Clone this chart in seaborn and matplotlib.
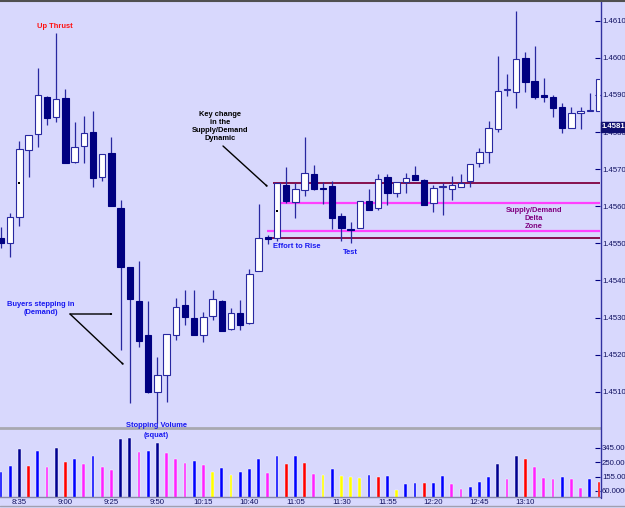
import matplotlib
matplotlib.use("Agg")
import matplotlib.pyplot as plt
from matplotlib.lines import Line2D
import seaborn as sns
import numpy as np
import pandas as pd

# ---------------- data ----------------
opens = [1.45514, 1.45501, 1.45571, 1.45752, 1.45795, 1.45894, 1.45840, 1.45892, 1.45719, 1.45762,
         1.45800, 1.45679, 1.45743, 1.45595, 1.45436, 1.45345, 1.45253, 1.45099, 1.45145, 1.45253,
         1.45334, 1.45299, 1.45253, 1.45304, 1.45345, 1.45269, 1.45312, 1.45285, 1.45425, 1.45517,
         1.45514, 1.45657, 1.45611, 1.45644, 1.45687, 1.45649, 1.45655, 1.45574, 1.45539, 1.45541,
         1.45614, 1.45595, 1.45679, 1.45636, 1.45665, 1.45684, 1.45671, 1.45609, 1.45652, 1.45646,
         1.45652, 1.45668, 1.45716, 1.45746, 1.45808, 1.45913, 1.45908, 1.45999, 1.45937, 1.45900,
         1.45894, 1.45867, 1.45811, 1.45851, 1.45857, 1.45857]
highs = [1.45544, 1.45582, 1.45776, 1.45792, 1.45973, 1.45897, 1.46067, 1.45916, 1.45827, 1.45843,
         1.45857, 1.45741, 1.45787, 1.45617, 1.45436, 1.45452, 1.45345, 1.45194, 1.45256, 1.45353,
         1.45374, 1.45374, 1.45315, 1.45374, 1.45347, 1.45326, 1.45347, 1.45431, 1.45606, 1.45522,
         1.45663, 1.45706, 1.45663, 1.45787, 1.45711, 1.45665, 1.45668, 1.45582, 1.45558, 1.45614,
         1.45646, 1.45687, 1.45687, 1.45665, 1.45690, 1.45708, 1.45673, 1.45657, 1.45663, 1.45681,
         1.45687, 1.45714, 1.45757, 1.45830, 1.46005, 1.45956, 1.46126, 1.46016, 1.46032, 1.45946,
         1.45900, 1.45878, 1.45867, 1.45867, 1.45905, 1.45943]
lows = [1.45487, 1.45463, 1.45547, 1.45679, 1.45760, 1.45819, 1.45827, 1.45716, 1.45716, 1.45716,
        1.45652, 1.45668, 1.45601, 1.45213, 1.45070, 1.45221, 1.45097, 1.45016, 1.45072, 1.45240,
        1.45280, 1.45253, 1.45234, 1.45293, 1.45264, 1.45266, 1.45266, 1.45283, 1.45425, 1.45498,
        1.45506, 1.45609, 1.45568, 1.45628, 1.45644, 1.45606, 1.45539, 1.45506, 1.45501, 1.45541,
        1.45590, 1.45590, 1.45603, 1.45625, 1.45636, 1.45671, 1.45603, 1.45584, 1.45576, 1.45617,
        1.45652, 1.45652, 1.45706, 1.45716, 1.45800, 1.45897, 1.45865, 1.45908, 1.45889, 1.45881,
        1.45840, 1.45797, 1.45811, 1.45808, 1.45857, 1.45857]
closes = [1.45501, 1.45571, 1.45754, 1.45792, 1.45900, 1.45838, 1.45889, 1.45716, 1.45760, 1.45797,
          1.45676, 1.45741, 1.45601, 1.45436, 1.45350, 1.45237, 1.45099, 1.45145, 1.45256, 1.45328,
          1.45301, 1.45253, 1.45301, 1.45350, 1.45264, 1.45312, 1.45280, 1.45417, 1.45514, 1.45512,
          1.45663, 1.45614, 1.45646, 1.45690, 1.45646, 1.45646, 1.45568, 1.45541, 1.45536, 1.45614,
          1.45590, 1.45673, 1.45636, 1.45665, 1.45676, 1.45671, 1.45603, 1.45649, 1.45655, 1.45657,
          1.45663, 1.45714, 1.45746, 1.45811, 1.45911, 1.45916, 1.45997, 1.45935, 1.45894, 1.45894,
          1.45865, 1.45811, 1.45851, 1.45857, 1.45859, 1.45943]
volumes = [183, 223, 339, 227, 324, 218, 346, 251, 269, 240, 291, 216, 197, 405, 408, 317, 324, 376,
           309, 271, 245, 260, 234, 187, 210, 168, 187, 203, 269, 177, 293, 238, 289, 247, 172,
           166, 203, 159, 150, 146, 163, 150, 159, 69, 106, 115, 111, 113, 159, 106, 73, 86, 119,
           152, 238, 137, 289, 273, 218, 146, 139, 152, 137, 82, 137, 119]
vol_class = list("BBNRBMNRBMBMMNNMBNMMMBMYBYBBBMBRBRM" "YBYYYBRBYBBRBBMMBBBNMNRMMMBMMBR")
start_minutes = 8 * 60 + 25
bar_minutes = 5
tick_idx = [2, 7, 12, 17, 22, 27, 32, 37, 42, 47, 52, 57]
tick_labels = ['8:35', '9:00', '9:25', '9:50', '10:15', '10:40', '11:05', '11:30',
               '11:55', '12:20', '12:45', '13:10']
price_ticks = [1.4510, 1.4520, 1.4530, 1.4540, 1.4550, 1.4560, 1.4570, 1.4580, 1.4590, 1.4600, 1.4610]
vol_ticks = [60, 155, 250, 345]
vol_tick_labels = ['60.0000', '155.000', '250.000', '345.000']
zone_levels = [1.45662, 1.45609, 1.45532, 1.45513]
zone_start = [29.6, 30.2, 28.9, 28.9]
zone_colors = ['#800040', '#ff40ff', '#ff40ff', '#800040']
dot_idx = [2, 30]
dot_price = [1.45663, 1.45587]
last_price_label = '1.45813'

# ---------------- style ----------------
sns.set_theme(style="white")
plt.rcParams['font.family'] = ['Liberation Sans', 'DejaVu Sans']

BG = '#d8d8fd'
NAVY = '#000080'
WICK = '#2828a0'
W, H = 625, 508

def frac(x0, y0, x1, y1):
    return [x0 / W, 1 - y1 / H, (x1 - x0) / W, (y1 - y0) / H]

def fp(x, y):
    return (x / W, 1 - y / H)

fig = plt.figure(figsize=(6.25, 5.08), dpi=100, facecolor=BG)
ax = fig.add_axes(frac(0, 0, 600, 428), facecolor=BG)
axv = fig.add_axes(frac(0, 430, 600, 497), facecolor=BG)

n = len(opens)
idx = np.arange(n)
o = np.array(opens); h = np.array(highs); l = np.array(lows); c = np.array(closes)
up = c >= o

# wicks
ax.vlines(idx, l, h, color=WICK, lw=0.9, zorder=2)
# bodies
body_bottom = np.minimum(o, c)
body_h = np.maximum(np.abs(c - o), 0.000012)
ax.bar(idx[up], body_h[up], bottom=body_bottom[up], width=0.68, color='white',
       edgecolor=WICK, linewidth=0.8, zorder=3)
ax.bar(idx[~up], body_h[~up], bottom=body_bottom[~up], width=0.68, color=NAVY,
       edgecolor=NAVY, linewidth=0.8, zorder=3)
ax.scatter(dot_idx, dot_price, s=2.5, color='black', marker='s', zorder=4, linewidths=0)

# zone lines
for lv, st, col in zip(zone_levels, zone_start, zone_colors):
    ax.hlines(lv, st, 66, color=col, lw=1.3 if col == '#800040' else 1.6, zorder=1)

xlim = (-0.11, 65.11)
ax.set_xlim(*xlim)
ax.set_ylim(1.450022, 1.461558)
ax.set_xticks([])
ax.yaxis.tick_right()
ax.set_yticks(price_ticks)
ax.set_yticklabels([f'{v:.5f}' for v in price_ticks])
ax.tick_params(axis='y', direction='in', length=3.5, width=0.8, color=NAVY, pad=1.5,
               labelsize=5.6, labelcolor='#101060', right=True)
for s in ['left', 'top', 'right']:
    ax.spines[s].set_visible(False)
ax.spines['bottom'].set_color('#a8a8b0')
ax.spines['bottom'].set_linewidth(2)

# volume via seaborn
pal = {'N': '#000090', 'B': '#0000ff', 'R': '#ff0000', 'M': '#ff22ff', 'Y': '#ffff00'}
vdf = pd.DataFrame({'idx': idx, 'vol': volumes, 'cls': vol_class})
sns.barplot(data=vdf, x='idx', y='vol', hue='cls', palette=pal, dodge=False, width=0.3,
            legend=False, ax=axv, native_scale=True, errorbar=None, saturation=1,
            edgecolor='white', linewidth=0.3)
axv.set_xlim(*xlim)
axv.set_ylim(20.4, 462.4)
axv.set_xlabel('')
axv.set_ylabel('')
axv.set_xticks(tick_idx)
axv.set_xticklabels(tick_labels)
axv.tick_params(axis='x', length=0, pad=1.8, labelsize=5.6, labelcolor='#101060')
axv.yaxis.tick_right()
axv.set_yticks(vol_ticks)
axv.set_yticklabels(vol_tick_labels)
axv.tick_params(axis='y', direction='in', length=3.5, width=0.8, color=NAVY, pad=1.5,
                labelsize=5.6, labelcolor='#101060', right=True)
for s in ['left', 'top', 'right']:
    axv.spines[s].set_visible(False)
axv.spines['bottom'].set_color('#8888a8')
axv.spines['bottom'].set_linewidth(1)

# frame lines
fig.add_artist(Line2D([600.5 / W] * 2, [1, 1 - 498 / H], color='#3030a0', lw=1.0))
fig.add_artist(Line2D([0, 1], [1 - 0.6 / H] * 2, color='#505050', lw=1.5))
fig.add_artist(Line2D([0, 1], [1 - 506 / H] * 2, color='#a0a0b0', lw=1.0))

# current price box
fig.text(*fp(602, 127), last_price_label, color='white', fontsize=5.6, fontweight='bold',
         ha='left', va='center',
         bbox=dict(boxstyle='square,pad=0.15', fc='#101070', ec='#101070'))

# annotations
fs = 5.4
fig.text(*fp(55, 26), 'Up Thrust', color='#ff1010', fontsize=fs, fontweight='bold',
         ha='center', va='center')
fig.text(*fp(220, 126.5), 'Key change\nin the\nSupply/Demand\nDynamic', color='black',
         fontsize=fs, fontweight='bold', ha='center', va='center', linespacing=1.22)
fig.text(*fp(41, 308.5), 'Buyers stepping in\n(Demand)', color='#1818f0', fontsize=fs,
         fontweight='bold', ha='center', va='center', linespacing=1.22)
fig.text(*fp(156, 430.5), 'Stopping Volume\n(squat)', color='#1818f0', fontsize=fs,
         fontweight='bold', ha='center', va='center', linespacing=1.45)
fig.text(*fp(297, 247), 'Effort to Rise', color='#1818f0', fontsize=fs, fontweight='bold',
         ha='center', va='center')
fig.text(*fp(350, 253), 'Test', color='#1818f0', fontsize=fs, fontweight='bold',
         ha='center', va='center')
fig.text(*fp(534, 218.5), 'Supply/Demand\nDelta\nZone', color='#800080', fontsize=fs,
         fontweight='bold', ha='center', va='center', linespacing=1.25)

arrow = dict(arrowstyle='->,head_length=0.5,head_width=0.25', color='black', lw=1.0,
             shrinkA=0, shrinkB=0)
for (x0, y0, x1, y1) in [(223, 146, 268, 187), (70, 314, 113, 314), (70, 314, 124, 365)]:
    fig.add_artist(matplotlib.patches.FancyArrowPatch(fp(x0, y0), fp(x1, y1),
                   transform=fig.transFigure, **arrow))

fig.savefig('out.png', dpi=100, facecolor=BG)
